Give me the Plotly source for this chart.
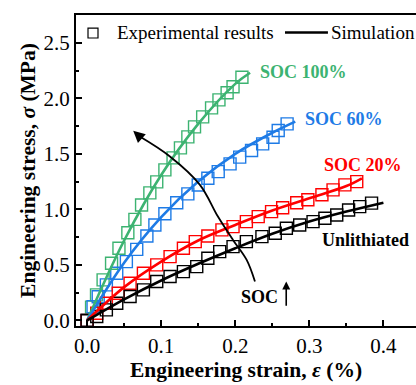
import plotly.graph_objects as go

# ---------------- data ----------------
# experimental points: strain (%) and stress (MPa)
soc100_x = [0.0, 0.006, 0.0127, 0.0216, 0.033, 0.043, 0.055, 0.0645, 0.0735, 0.0847, 0.094,
            0.105, 0.116, 0.126, 0.136, 0.145, 0.156, 0.168, 0.178, 0.189, 0.197, 0.209]
soc100_y = [0.0, 0.12, 0.23, 0.365, 0.515, 0.65, 0.79, 0.91, 1.04, 1.149, 1.248,
            1.356, 1.464, 1.554, 1.653, 1.743, 1.833, 1.914, 1.986, 2.05, 2.104, 2.19]

soc60_x = [0.0, 0.008, 0.015, 0.026, 0.040, 0.053, 0.067, 0.0807, 0.0915, 0.105, 0.121,
           0.136, 0.150, 0.163, 0.177, 0.193, 0.206, 0.222, 0.237, 0.251, 0.258, 0.270]
soc60_y = [0.0, 0.124, 0.214, 0.32, 0.425, 0.53, 0.64, 0.76, 0.86, 0.96, 1.06,
           1.14, 1.22, 1.28, 1.34, 1.41, 1.47, 1.53, 1.59, 1.65, 1.71, 1.77]

soc20_x = [0.0, 0.013, 0.026, 0.042, 0.058, 0.076, 0.094, 0.112, 0.130, 0.146, 0.163,
           0.182, 0.197, 0.215, 0.231, 0.249, 0.264, 0.283, 0.298, 0.317, 0.332, 0.348, 0.364]
soc20_y = [0.0, 0.065, 0.155, 0.245, 0.335, 0.425, 0.50, 0.575, 0.65, 0.71, 0.76,
           0.815, 0.845, 0.89, 0.935, 0.98, 1.014, 1.059, 1.086, 1.131, 1.176, 1.221, 1.25]

unl_x = [0.0, 0.013, 0.026, 0.040, 0.058, 0.076, 0.094, 0.112, 0.130, 0.148, 0.163,
         0.179, 0.197, 0.215, 0.236, 0.254, 0.269, 0.287, 0.305, 0.321, 0.337, 0.353, 0.368, 0.384]
unl_y = [0.0, 0.035, 0.095, 0.155, 0.215, 0.275, 0.35, 0.395, 0.44, 0.485, 0.56,
         0.62, 0.665, 0.71, 0.755, 0.785, 0.83, 0.86, 0.89, 0.92, 0.95, 0.995, 1.025, 1.056]

# simulation curves
sim100_x = [0.0, 0.05, 0.10, 0.15, 0.20, 0.22]
sim100_y = [0.0, 0.72, 1.31, 1.77, 2.13, 2.23]
sim60_x = [0.0, 0.05, 0.10, 0.15, 0.20, 0.25, 0.281]
sim60_y = [0.0, 0.52, 0.93, 1.25, 1.50, 1.69, 1.79]
sim20_x = [0.0, 0.05, 0.10, 0.15, 0.20, 0.25, 0.30, 0.35, 0.371]
sim20_y = [0.0, 0.30, 0.53, 0.72, 0.86, 0.99, 1.10, 1.21, 1.28]
simu_x = [0.0, 0.05, 0.10, 0.15, 0.20, 0.25, 0.30, 0.35, 0.40]
simu_y = [0.0, 0.19, 0.36, 0.51, 0.65, 0.78, 0.89, 0.98, 1.06]

# curved "SOC increases" arrow path (data coords)
arrow_x = [0.2266, 0.2154, 0.1969, 0.1766, 0.1523, 0.1118, 0.070]
arrow_y = [0.35, 0.545, 0.725, 0.935, 1.221, 1.476, 1.66]
arrow_tip = (0.0622, 1.707)

series_names = ["SOC 100%", "SOC 60%", "SOC 20%", "Unlithiated"]
colors = ["#3CB371", "#1E7BE6", "#FF0000", "#000000"]
legend_names = ["Experimental results", "Simulation"]

FONT = "Liberation Serif"

fig = go.Figure()

exp_sets = [(soc100_x, soc100_y), (soc60_x, soc60_y), (soc20_x, soc20_y), (unl_x, unl_y)]
sim_sets = [(sim100_x, sim100_y), (sim60_x, sim60_y), (sim20_x, sim20_y), (simu_x, simu_y)]

for (ex, ey), c, n in zip(exp_sets, colors, series_names):
    fig.add_trace(go.Scatter(x=ex, y=ey, mode="markers", showlegend=False, name=n,
                             marker=dict(symbol="square-open", size=12, color=c,
                                         line=dict(width=1.4, color=c))))
for (sx, sy), c, n in zip(sim_sets, colors, series_names):
    fig.add_trace(go.Scatter(x=sx, y=sy, mode="lines", showlegend=False, name=n,
                             line=dict(color=c, width=2.6, shape="spline")))

# curved arrow
fig.add_trace(go.Scatter(x=arrow_x, y=arrow_y, mode="lines", showlegend=False,
                         line=dict(color="black", width=1.8, shape="spline")))
fig.add_annotation(x=arrow_tip[0], y=arrow_tip[1], ax=arrow_x[-1], ay=arrow_y[-1],
                   xref="x", yref="y", axref="x", ayref="y", text="", showarrow=True,
                   arrowhead=2, arrowsize=1.3, arrowwidth=1.8, arrowcolor="black")

# series labels
label_pos = [(0.2305, 2.239), (0.2915, 1.815), (0.317, 1.40), (0.3145, 0.725)]
for name, c, (lx, ly) in zip(series_names, colors, label_pos):
    fig.add_annotation(x=lx, y=ly, xref="x", yref="y", text="<b>%s</b>" % name,
                       showarrow=False, xanchor="left", yanchor="middle",
                       font=dict(family=FONT, size=18, color=c))

fig.add_annotation(x=0.205, y=0.212, xref="x", yref="y", text="<b>SOC</b>",
                   showarrow=False, xanchor="left", yanchor="middle",
                   font=dict(family=FONT, size=18, color="black"))
fig.add_annotation(x=0.2688, y=0.35, ax=0.2688, ay=0.118, xref="x", yref="y",
                   axref="x", ayref="y", text="", showarrow=True, arrowhead=2,
                   arrowsize=1.0, arrowwidth=1.6, arrowcolor="black")

# legend (drawn inside the top of the frame)
fig.add_shape(type="rect", xref="paper", yref="paper", x0=0.0353, x1=0.0647,
              y0=0.926, y1=0.958, line=dict(color="black", width=1.2))
fig.add_shape(type="line", xref="paper", yref="paper", x0=0.6147, x1=0.741,
              y0=0.9437, y1=0.9437, line=dict(color="black", width=2.6))
fig.add_annotation(x=0.1147, y=0.9437, xref="paper", yref="paper", text=legend_names[0],
                   showarrow=False, xanchor="left", yanchor="middle",
                   font=dict(family=FONT, size=19, color="black"))
fig.add_annotation(x=0.744, y=0.9437, xref="paper", yref="paper", text=legend_names[1],
                   showarrow=False, xanchor="left", yanchor="middle",
                   font=dict(family=FONT, size=19, color="black"))

axis_common = dict(showline=True, linecolor="black", linewidth=2, ticks="inside",
                   ticklen=6, tickwidth=1.5, tickcolor="black", showgrid=False,
                   zeroline=False, tickfont=dict(family=FONT, size=21, color="black"),
                   tickformat=".1f")

fig.update_layout(
    width=416, height=385,
    margin=dict(l=76, r=0, t=15, b=59),
    paper_bgcolor="white", plot_bgcolor="white",
    font=dict(family=FONT, color="black"),
    showlegend=False,
    xaxis=dict(range=[-0.015, 0.444], dtick=0.1, tick0=0, mirror=True,
               minor=dict(ticks="inside", ticklen=3, dtick=0.05, tickcolor="black", tickwidth=1.5),
               title=dict(text="<b>Engineering strain, <i>ε</i> (%)</b>",
                          font=dict(family=FONT, size=21.5, color="black"), standoff=3),
               **axis_common),
    yaxis=dict(range=[-0.05, 2.75], dtick=0.5, tick0=0,
               minor=dict(ticks="inside", ticklen=3, dtick=0.25, tickcolor="black", tickwidth=1.5),
               title=dict(text="<b>Engineering stress, <i>σ</i> (MPa)</b>",
                          font=dict(family=FONT, size=21.5, color="black"), standoff=2),
               **axis_common),
)

fig.write_html("out.html", config={"displayModeBar": False},
               post_script="document.body.style.margin='0';document.body.style.overflow='hidden';")
